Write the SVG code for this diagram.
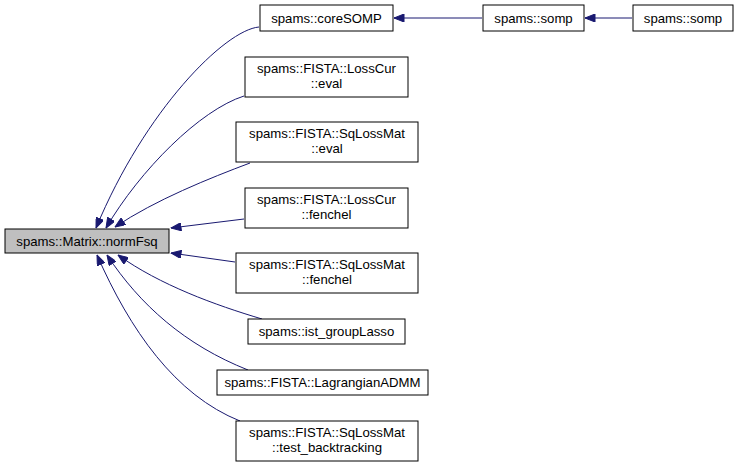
<svg xmlns="http://www.w3.org/2000/svg" width="740" height="467" viewBox="0 0 740 467">
<defs>
<style>
.n rect{fill:#fff;stroke:#000;stroke-width:1}
.n.main rect{fill:#bfbfbf}
.n text{font-family:"Liberation Sans",Arial,sans-serif;font-size:13.2px;text-anchor:middle;fill:#000}
.e path{fill:none;stroke:#191970;stroke-width:1}
</style>
<marker id="ah" viewBox="0 0 10 8" refX="10" refY="4" markerWidth="11" markerHeight="8" markerUnits="userSpaceOnUse" orient="auto">
<path d="M0,0 L10,4 L0,8 z" fill="#191970" stroke="#191970"/>
</marker>
</defs>
<rect width="740" height="467" fill="#fff"/>
<g id="edges" class="e">
<path d="M259,27 C225,30 145,110 96,228" marker-end="url(#ah)"/>
<path d="M244,96 C200,110 140,170 106,228" marker-end="url(#ah)"/>
<path d="M250,163 C210,178 155,200 115,227" marker-end="url(#ah)"/>
<path d="M244,219 L171,228" marker-end="url(#ah)"/>
<path d="M235,262 L171,253" marker-end="url(#ah)"/>
<path d="M262,319 C215,305 160,285 118,255" marker-end="url(#ah)"/>
<path d="M248,370 C185,345 140,305 107,255" marker-end="url(#ah)"/>
<path d="M240,421 C175,395 130,330 97,255" marker-end="url(#ah)"/>
<path d="M482,18 L394,18" marker-end="url(#ah)"/>
<path d="M632,18 L585,18" marker-end="url(#ah)"/>
</g>
<g id="node_main" class="n main"><rect x="5" y="229" width="164" height="24"/><text x="87" y="245.5">spams::Matrix::normFsq</text></g>
<g id="node_coreSOMP" class="n"><rect x="260" y="5" width="133" height="26"/><text x="326.5" y="22.5">spams::coreSOMP</text></g>
<g id="node_somp1" class="n"><rect x="483" y="5" width="101" height="26"/><text x="533.5" y="22.5">spams::somp</text></g>
<g id="node_somp2" class="n"><rect x="633" y="5" width="100" height="26"/><text x="683" y="22.5">spams::somp</text></g>
<g id="node_losscur_eval" class="n"><rect x="245" y="57" width="163" height="40"/><text x="326.5" y="73">spams::FISTA::LossCur</text><text x="326.5" y="88">::eval</text></g>
<g id="node_sqlossmat_eval" class="n"><rect x="236" y="122" width="182" height="40"/><text x="327" y="138">spams::FISTA::SqLossMat</text><text x="327" y="153">::eval</text></g>
<g id="node_losscur_fenchel" class="n"><rect x="245" y="188" width="163" height="40"/><text x="326.5" y="204">spams::FISTA::LossCur</text><text x="326.5" y="219">::fenchel</text></g>
<g id="node_sqlossmat_fenchel" class="n"><rect x="236" y="253" width="182" height="40"/><text x="327" y="269">spams::FISTA::SqLossMat</text><text x="327" y="284">::fenchel</text></g>
<g id="node_ist_groupLasso" class="n"><rect x="248" y="319" width="157" height="25"/><text x="326.5" y="336">spams::ist_groupLasso</text></g>
<g id="node_lagrangian" class="n"><rect x="217" y="370" width="211" height="25"/><text x="322.5" y="387">spams::FISTA::LagrangianADMM</text></g>
<g id="node_test_bt" class="n"><rect x="236" y="421" width="182" height="40"/><text x="327" y="437">spams::FISTA::SqLossMat</text><text x="327" y="452">::test_backtracking</text></g>
</svg>
